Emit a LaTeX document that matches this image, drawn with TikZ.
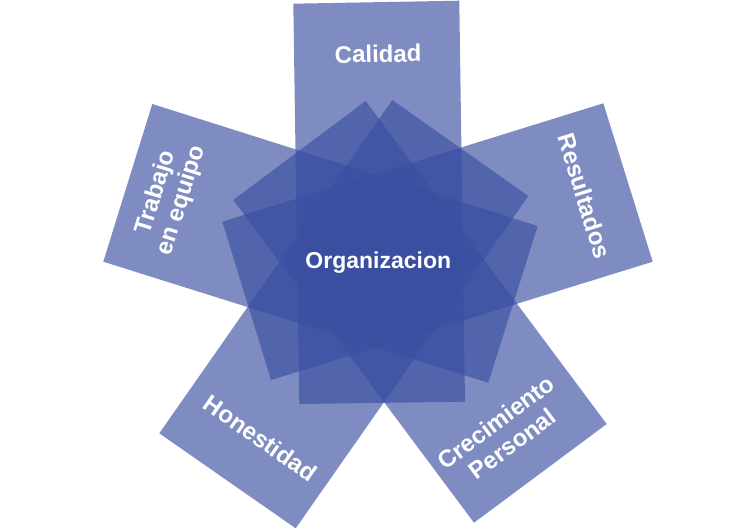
\documentclass[tikz,border=0pt]{standalone}
\usepackage{fontspec}
\setmainfont{Liberation Sans}
\definecolor{petalblue}{RGB}{58,78,161}
\tikzset{
  petal/.style={fill=petalblue, fill opacity=0.65, draw=none},
  lbl/.style={text=white, font=\fontsize{24}{27}\selectfont\bfseries, align=center, inner sep=0pt}
}
\begin{document}
\begin{tikzpicture}[x=1pt,y=-1pt]
\useasboundingbox (0,0) rectangle (755,530);
% Calidad
\fill[petal] (293.3,3.7) -- (459.3,0.7) -- (465,401.7) -- (299.3,404) -- cycle;
% Resultados
\fill[petal] (603.3,103.3) -- (652.7,261.7) -- (271,380) -- (222.3,221.7) -- cycle;
% Crecimiento Personal
\fill[petal] (606.7,424) -- (474,522.7) -- (233.3,200) -- (365.7,101) -- cycle;
% Honestidad
\fill[petal] (295.7,528.3) -- (159.3,433.3) -- (392.3,100) -- (528.3,196) -- cycle;
% Trabajo en equipo
\fill[petal] (103.3,261.7) -- (152.3,104) -- (537.7,226) -- (488.3,382.7) -- cycle;
% labels
\node[lbl, rotate=1, anchor=base] (calidad) at (378.3,62.3) {Calidad};
\node[lbl, font=\fontsize{23}{27}\selectfont\bfseries, anchor=base] (org) at (378.3,268.3) {Organizacion};
\node[lbl, rotate=-72.7] (resultados) at (584.5,196) {Resultados};
\node[lbl, rotate=72.7] (trabajo) at (169,196.5) {Trabajo\\en equipo};
\node[lbl, rotate=-34.9] (honestidad) at (260.4,438.2) {Honestidad};
\node[lbl, rotate=36.6] (crecimiento) at (504,433) {Crecimiento\\Personal};
\end{tikzpicture}
\end{document}
